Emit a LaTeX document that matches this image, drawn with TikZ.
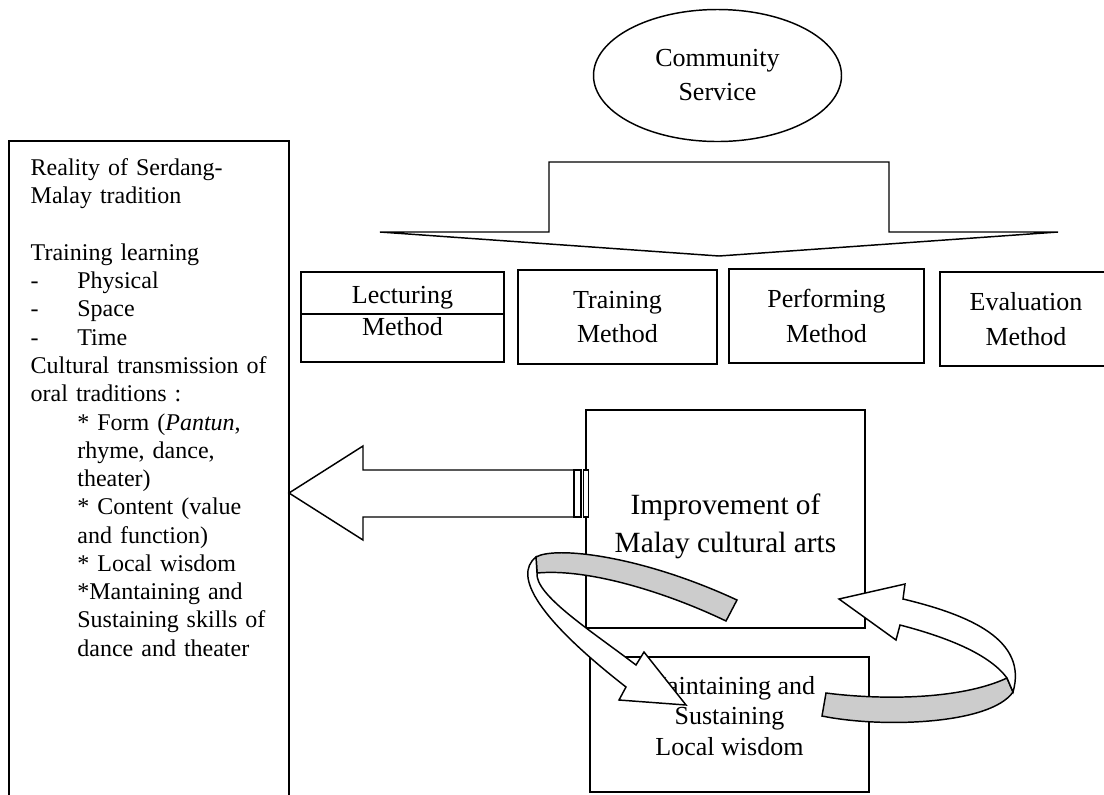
\documentclass[tikz,border=0pt]{standalone}
\usepackage{fontspec}
\setmainfont{Liberation Serif}
\usetikzlibrary{shapes.geometric}

\tikzset{every picture/.style={line width=1.1pt}}
\tikzset{
	methodbox/.style={draw, align=center, inner sep=0pt, font=\fontsize{19.5pt}{26pt}\selectfont},
	plainbox/.style={draw, inner sep=0pt},
	boxtext/.style={align=center, inner sep=0pt},
	ribbon/.style={fill={rgb, 255:red, 204; green, 204; blue, 204 }}}

\begin{document}
\begin{tikzpicture}[x=0.75pt,y=0.75pt,yscale=-1,xscale=1]
\useasboundingbox (0,0) rectangle (1104,794);

%Shape: Ellipse
\node [ellipse, draw, minimum width=186pt, minimum height=99pt, inner sep=0pt, align=center, font=\fontsize{19.5pt}{25.5pt}\selectfont] (comm) at (717.5,75.5) {Community\\Service};

%Shape: Down Arrow
\draw    (549,232) -- (549,162) -- (889,162) -- (889,232) -- (1058,232) -- (719,256) -- (380,232) -- cycle ;

%Shape: Rectangle
\node [plainbox, minimum width=152.25pt, minimum height=67.5pt] (lect) at (402.5,317) {};
\coordinate (lectdiv) at (0,314);
\draw    (lect.west |- lectdiv) -- (lect.east |- lectdiv) ;
% Text Node
\node [boxtext, font=\fontsize{19.5pt}{24pt}\selectfont] (lecttxt) at (402.5,311) {Lecturing\\Method};
%Shape: Rectangle
\node [methodbox, minimum width=149.25pt, minimum height=70.5pt] (train) at (617.5,317) {Training\\Method};
%Shape: Rectangle
\node [methodbox, minimum width=146.25pt, minimum height=70.5pt] (perf) at (826.5,316) {Performing\\Method};
%Shape: Rectangle
\node [methodbox, minimum width=129pt, minimum height=70.5pt] (eval) at (1026,319) {Evaluation\\Method};

%Shape: Rectangle (left, open at the bottom)
\draw    (9,800) -- (9,141) -- (289,141) -- (289,800) ;
% Text Node
\node [anchor=north west, inner sep=0pt, text width=190pt, align=left, font=\fontsize{18pt}{21.2pt}\selectfont] (reality) at (30,158) {Reality of Serdang-\\
Malay tradition\\[21.2pt]
Training learning\\
\makebox[35pt][l]{-}Physical\\
\makebox[35pt][l]{-}Space\\
\makebox[35pt][l]{-}Time\\
Cultural transmission of\\
oral traditions :\\
\hspace*{35pt}* Form (\textit{Pantun},\\
\hspace*{35pt}rhyme, dance,\\
\hspace*{35pt}theater)\\
\hspace*{35pt}* Content (value\\
\hspace*{35pt}and function)\\
\hspace*{35pt}* Local wisdom\\
\hspace*{35pt}*Mantaining and\\
\hspace*{35pt}Sustaining skills of\\
\hspace*{35pt}dance and theater};

%Shape: Rectangle
\node [plainbox, minimum width=209.25pt, minimum height=163.5pt] (impr) at (725.5,519) {};
% Text Node
\node [boxtext, font=\fontsize{22pt}{28.5pt}\selectfont] (imprtxt) at (725.5,526) {Improvement of\\Malay cultural arts};

%Shape: Rectangle
\node [plainbox, minimum width=209.25pt, minimum height=101.25pt] (maint) at (729.5,724.5) {};
% Text Node
\node [boxtext, font=\fontsize{19.5pt}{23pt}\selectfont] (mainttxt) at (729.5,716) {Maintaining and\\Sustaining\\Local wisdom};

%Shape: Striped Left Arrow
\draw    (289,493) -- (363,446) -- (363,470) -- (574,470) -- (574,517) -- (363,517) -- (363,540) -- cycle ;
\draw [fill=white]   (574,470) rectangle (581,517) ;
\draw [fill=white]   (583.5,470) rectangle (588.5,517) ;

%Shape: Circular Arrow (left)
\draw [ribbon]   (536,557) .. controls (555,546) and (640,555) .. (737,600) -- (726,621) .. controls (670,594) and (590,568) .. (537,573) -- cycle ;
\draw [fill=white]   (536,557) .. controls (512,576) and (540,620) .. (626,687) -- (619,700) -- (686,705) -- (644,652) -- (636,665) .. controls (590,630) and (535,595) .. (537,573) -- cycle ;

%Shape: Circular Arrow (right)
\draw [ribbon]   (826,693) .. controls (880,700) and (960,700) .. (1007,678) -- (1013,692) .. controls (990,725) and (880,728) .. (822,716) -- cycle ;
\draw [fill=white]   (839,599) -- (905,584) -- (903,599) .. controls (970,615) and (1028,640) .. (1013,692) -- (1007,678) .. controls (990,655) and (950,638) .. (900,625) -- (896,640) -- cycle ;

\end{tikzpicture}
\end{document}
